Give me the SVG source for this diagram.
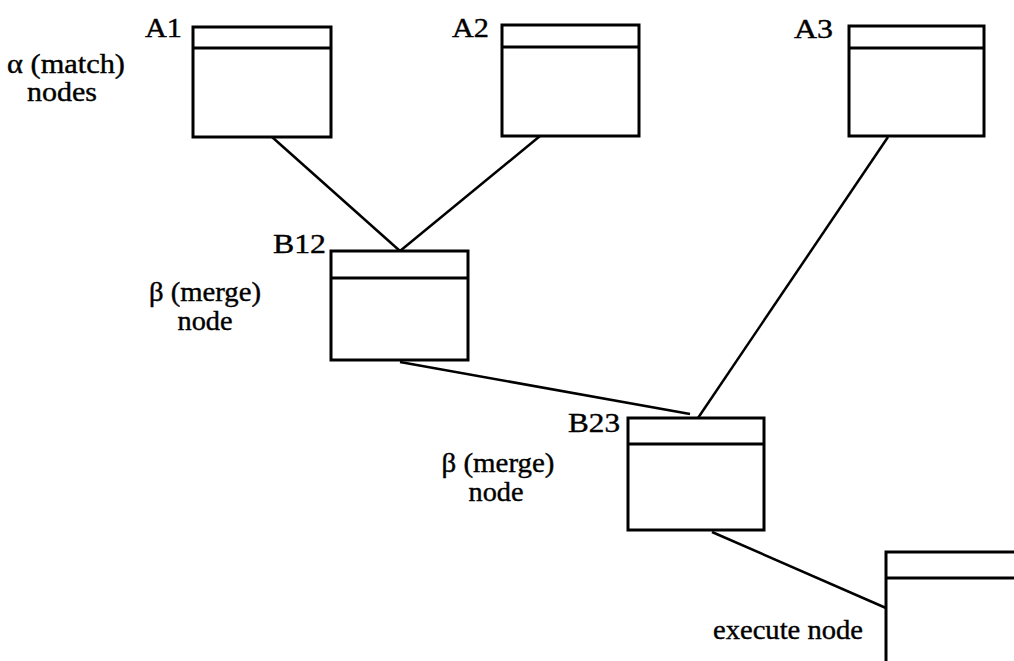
<svg xmlns="http://www.w3.org/2000/svg" width="1014" height="661" viewBox="0 0 1014 661">
<style>
.box{fill:#fff;stroke:#000;stroke-width:3}
.div{stroke:#000;stroke-width:3}
.conn line{stroke:#000;stroke-width:2.5}
text{font-family:"Liberation Serif","Times New Roman",serif;font-size:27px;fill:#000;stroke:#000;stroke-width:0.4}
</style>
<rect width="1014" height="661" fill="#fff"/>
<text x="66" y="73" text-anchor="middle" textLength="118" lengthAdjust="spacingAndGlyphs">α (match)</text>
<text x="62" y="101" text-anchor="middle" textLength="70" lengthAdjust="spacingAndGlyphs">nodes</text>
<text x="205" y="301" text-anchor="middle" textLength="112" lengthAdjust="spacingAndGlyphs">β (merge)</text>
<text x="205" y="330" text-anchor="middle" textLength="55" lengthAdjust="spacingAndGlyphs">node</text>
<text x="498" y="472" text-anchor="middle" textLength="113" lengthAdjust="spacingAndGlyphs">β (merge)</text>
<text x="496" y="501" text-anchor="middle" textLength="55" lengthAdjust="spacingAndGlyphs">node</text>
<text x="713" y="639" textLength="150" lengthAdjust="spacingAndGlyphs">execute node</text>
<g class="conn" id="connectors">
<line x1="272" y1="137" x2="400" y2="251"/>
<line x1="540" y1="136" x2="400" y2="251"/>
<line x1="400" y1="362" x2="690" y2="414"/>
<line x1="888" y1="137" x2="698" y2="418"/>
<line x1="712" y1="532" x2="886" y2="608"/>
</g>
<g id="A1">
<rect class="box" x="193" y="27" width="138" height="110"/>
<line class="div" x1="193" y1="48" x2="331" y2="48"/>
<text x="145" y="37" textLength="37" lengthAdjust="spacingAndGlyphs">A1</text>
</g>
<g id="A2">
<rect class="box" x="502" y="25" width="137" height="111"/>
<line class="div" x1="502" y1="47" x2="640" y2="47"/>
<text x="452" y="37" textLength="37" lengthAdjust="spacingAndGlyphs">A2</text>
</g>
<g id="A3">
<rect class="box" x="849" y="26" width="135" height="110"/>
<line class="div" x1="849" y1="48" x2="984" y2="48"/>
<text x="794" y="38" textLength="39" lengthAdjust="spacingAndGlyphs">A3</text>
</g>
<g id="B12">
<rect class="box" x="331" y="251" width="137" height="109"/>
<line class="div" x1="331" y1="278" x2="468" y2="278"/>
<text x="273" y="253" textLength="53" lengthAdjust="spacingAndGlyphs">B12</text>
</g>
<g id="B23">
<rect class="box" x="628" y="418" width="136" height="112"/>
<line class="div" x1="628" y1="444" x2="764" y2="444"/>
<text x="568" y="432" textLength="52" lengthAdjust="spacingAndGlyphs">B23</text>
</g>
<g id="execute">
<rect class="box" x="886" y="552" width="140" height="120"/>
<line class="div" x1="886" y1="578" x2="1014" y2="578"/>
</g>
</svg>
